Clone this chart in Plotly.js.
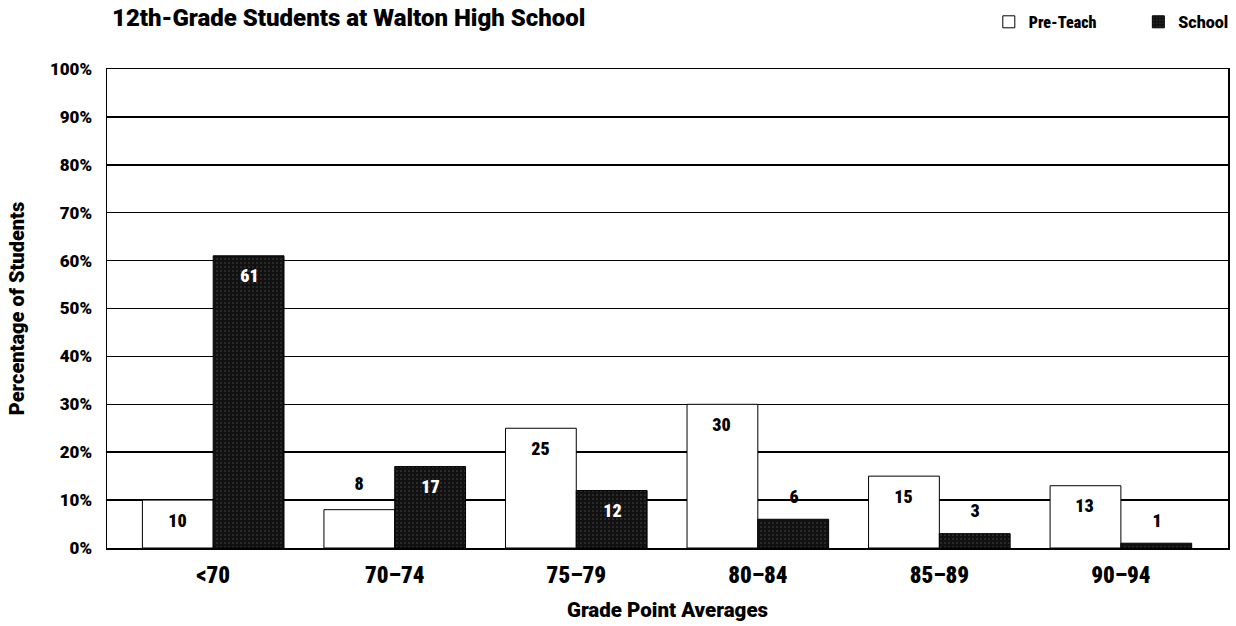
<!DOCTYPE html>
<html>
<head>
<meta charset="utf-8">
<script src="https://cdn.plot.ly/plotly-3.0.1.min.js"></script>
<style>
html,body{margin:0;padding:0;background:#fff;}
#chart{width:1236px;height:626px;}
#chart .xtick text{font-stretch:85% !important;}
#chart text.annotation-text{font-stretch:87% !important;}
#chart text.legendtext{font-stretch:75% !important;}
</style>
</head>
<body>
<div id="chart"></div>
<script>
const categories = ["<70", "70\u201374", "75\u201379", "80\u201384", "85\u201389", "90\u201394"];
const preTeach = [10, 8, 25, 30, 15, 13];
const school = [61, 17, 12, 6, 3, 1];
const yTickVals = [0, 10, 20, 30, 40, 50, 60, 70, 80, 90, 100];
const yTickText = yTickVals.map(v => v + '%');

const FONT = "Roboto, 'DejaVu Sans', sans-serif";

const traces = [
  {
    type: 'bar', name: 'Pre-Teach', x: categories, y: preTeach, legend: 'legend',
    marker: {color: '#ffffff', line: {color: '#000', width: 1}},
    hoverinfo: 'skip'
  },
  {
    type: 'bar', name: 'School', x: categories, y: school, legend: 'legend2',
    marker: {color: '#111111', line: {color: '#000', width: 1},
      pattern: {shape: '.', fgcolor: '#4a4a4a', bgcolor: '#111111', size: 4, solidity: 0.12}},
    hoverinfo: 'skip'
  }
];

const annotations = [];
preTeach.forEach((v, i) => {
  const inside = v >= 10;
  annotations.push({
    x: categories[i], y: v, xref: 'x', yref: 'y', text: String(v), showarrow: false,
    xshift: -36, yshift: inside ? -20 : 26,
    font: {family: FONT, size: 18, color: '#000', weight: 900}
  });
});
school.forEach((v, i) => {
  const inside = v >= 10;
  annotations.push({
    x: categories[i], y: v, xref: 'x', yref: 'y', text: String(v), showarrow: false,
    xshift: 36, yshift: inside ? -20 : 23,
    font: {family: FONT, size: 18, color: inside ? '#fff' : '#000', weight: 900}
  });
});

const legendFont = {family: FONT, size: 16, color: '#000', weight: 900};

const layout = {
  width: 1236, height: 626,
  margin: {l: 107, r: 8, t: 69, b: 78},
  paper_bgcolor: '#fff', plot_bgcolor: '#fff',
  barmode: 'group', bargap: 0.22, bargroupgap: 0,
  showlegend: true,
  title: {
    text: '12th-Grade Students at Walton High School',
    xref: 'container', yref: 'container', x: 0.0906, xanchor: 'left', y: 0.972, yanchor: 'middle',
    font: {family: FONT, size: 24, color: '#000', weight: 900}
  },
  legend: {
    orientation: 'h', xref: 'container', yref: 'container', x: 0.800, xanchor: 'left', y: 0.965, yanchor: 'middle',
    font: legendFont, bgcolor: 'rgba(0,0,0,0)'
  },
  legend2: {
    orientation: 'h', xref: 'container', yref: 'container', x: 0.921, xanchor: 'left', y: 0.965, yanchor: 'middle',
    font: legendFont, bgcolor: 'rgba(0,0,0,0)'
  },
  xaxis: {
    type: 'category', range: [-0.585, 5.59],
    showgrid: false, showline: true, linecolor: '#000', linewidth: 1.5, mirror: true,
    ticks: '', ticklabelstandoff: 6, tickfont: {family: FONT, size: 23, color: '#000', weight: 900},
    title: {text: 'Grade Point Averages', standoff: 14, font: {family: FONT, size: 20.5, color: '#000', weight: 900}},
    fixedrange: true
  },
  yaxis: {
    range: [0, 100], tickmode: 'array', tickvals: yTickVals, ticktext: yTickText,
    showgrid: true, gridcolor: '#000', gridwidth: 1.5,
    showline: true, linecolor: '#000', linewidth: 1.5, mirror: true, zeroline: false,
    ticks: '', ticklabelstandoff: 10,
    tickfont: {family: FONT, size: 17, color: '#000', weight: 900},
    title: {text: 'Percentage of Students', standoff: 20, font: {family: FONT, size: 20, color: '#000', weight: 900}},
    fixedrange: true
  },
  annotations: annotations
};

Plotly.newPlot('chart', traces, layout, {displayModeBar: false, staticPlot: true});
</script>
</body>
</html>
